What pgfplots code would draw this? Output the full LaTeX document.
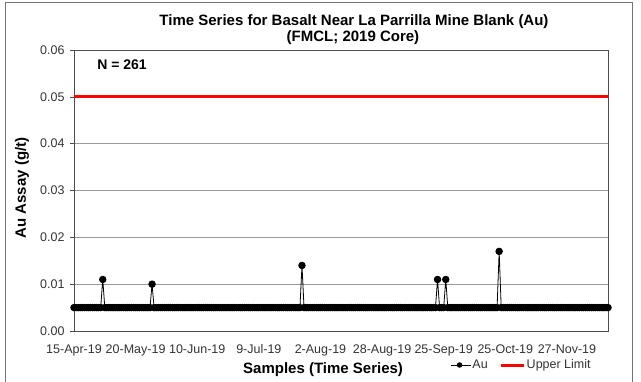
\documentclass[border=0pt]{standalone}
\usepackage{fontspec}
\setmainfont{Liberation Sans}
\usepackage{pgfplots}
\usepackage{pgfplotstable}
\pgfplotsset{compat=1.18}

% Au assay per sample (g/t), 261 samples in order
\pgfplotstableread[row sep=\\]{
au\\
.005\\ .005\\ .005\\ .005\\ .005\\  .005\\ .005\\ .005\\ .005\\ .005\\  .005\\ .005\\ .005\\ .005\\ .011\\  .005\\ .005\\ .005\\ .005\\ .005\\
.005\\ .005\\ .005\\ .005\\ .005\\  .005\\ .005\\ .005\\ .005\\ .005\\  .005\\ .005\\ .005\\ .005\\ .005\\  .005\\ .005\\ .005\\ .010\\ .005\\
.005\\ .005\\ .005\\ .005\\ .005\\  .005\\ .005\\ .005\\ .005\\ .005\\  .005\\ .005\\ .005\\ .005\\ .005\\  .005\\ .005\\ .005\\ .005\\ .005\\
.005\\ .005\\ .005\\ .005\\ .005\\  .005\\ .005\\ .005\\ .005\\ .005\\  .005\\ .005\\ .005\\ .005\\ .005\\  .005\\ .005\\ .005\\ .005\\ .005\\
.005\\ .005\\ .005\\ .005\\ .005\\  .005\\ .005\\ .005\\ .005\\ .005\\  .005\\ .005\\ .005\\ .005\\ .005\\  .005\\ .005\\ .005\\ .005\\ .005\\
.005\\ .005\\ .005\\ .005\\ .005\\  .005\\ .005\\ .005\\ .005\\ .005\\  .005\\ .014\\ .005\\ .005\\ .005\\  .005\\ .005\\ .005\\ .005\\ .005\\
.005\\ .005\\ .005\\ .005\\ .005\\  .005\\ .005\\ .005\\ .005\\ .005\\  .005\\ .005\\ .005\\ .005\\ .005\\  .005\\ .005\\ .005\\ .005\\ .005\\
.005\\ .005\\ .005\\ .005\\ .005\\  .005\\ .005\\ .005\\ .005\\ .005\\  .005\\ .005\\ .005\\ .005\\ .005\\  .005\\ .005\\ .005\\ .005\\ .005\\
.005\\ .005\\ .005\\ .005\\ .005\\  .005\\ .005\\ .005\\ .005\\ .005\\  .005\\ .005\\ .005\\ .005\\ .005\\  .005\\ .005\\ .011\\ .005\\ .005\\
.005\\ .011\\ .005\\ .005\\ .005\\  .005\\ .005\\ .005\\ .005\\ .005\\  .005\\ .005\\ .005\\ .005\\ .005\\  .005\\ .005\\ .005\\ .005\\ .005\\
.005\\ .005\\ .005\\ .005\\ .005\\  .005\\ .005\\ .017\\ .005\\ .005\\  .005\\ .005\\ .005\\ .005\\ .005\\  .005\\ .005\\ .005\\ .005\\ .005\\
.005\\ .005\\ .005\\ .005\\ .005\\  .005\\ .005\\ .005\\ .005\\ .005\\  .005\\ .005\\ .005\\ .005\\ .005\\  .005\\ .005\\ .005\\ .005\\ .005\\
.005\\ .005\\ .005\\ .005\\ .005\\  .005\\ .005\\ .005\\ .005\\ .005\\  .005\\ .005\\ .005\\ .005\\ .005\\  .005\\ .005\\ .005\\ .005\\ .005\\
.005\\
}\audata

\begin{document}
\begin{tikzpicture}[x=1bp,y=1bp]
\useasboundingbox (0,0) rectangle (641,381);
% outer chart frame
\draw[black!55, line width=0.8bp] (5,-5) -- (5,379) -- (632,379) -- (632,-5);

\begin{axis}[
    at={(74bp,50bp)}, anchor=south west,
    scale only axis,
    width=534bp, height=281bp,
    xmin=0, xmax=260,
    ymin=0, ymax=0.06,
    clip=false,
    axis line style={black!70, line width=0.8bp},
    ytick={0,0.01,0.02,0.03,0.04,0.05,0.06},
    scaled y ticks=false,
    yticklabel style={/pgf/number format/fixed, /pgf/number format/fixed zerofill,
        /pgf/number format/precision=2, /pgf/number format/assume math mode=true,
        xshift=-2bp},
    ytick pos=left,
    tick align=outside,
    major tick length=4bp,
    y tick style={black!70, line width=0.6bp},
    xtick={0,30,...,240},
    xticklabels={15-Apr-19,20-May-19,10-Jun-19,9-Jul-19,2-Aug-19,28-Aug-19,25-Sep-19,25-Oct-19,27-Nov-19},
    xtick style={draw=none},
    xticklabel style={yshift=-6bp},
    tick label style={font=\fontsize{12.5bp}{15bp}\selectfont, text=black!80},
    ymajorgrids,
    grid style={black!40, line width=0.6bp},
    legend style={
        at={(0.704,-0.121)}, anchor=west,
        draw=none, fill=none, inner sep=0pt,
        legend columns=2,
        font=\fontsize{12.5bp}{15bp}\selectfont,
        text=black!80,
        nodes={inner sep=1.5bp},
        /tikz/every even column/.append style={column sep=10bp}
    }
]
\addplot[black, line width=0.8bp, mark=*, mark size=3.3bp,
    mark options={fill=black},
    legend image code/.code={
        \draw[black, line width=0.8bp] (0bp,0bp) -- (20bp,0bp);
        \fill[black] (9bp,0bp) circle (2.3bp);}]
    table[x expr=\coordindex, y=au] {\audata};
\addlegendentry{Au}
\addplot[red, line width=3bp,
    legend image code/.code={\draw[red, line width=3bp] (0bp,0bp) -- (23bp,0bp);}]
    coordinates {(0,0.05) (260,0.05)};
\addlegendentry{Upper Limit}
\node[anchor=west, font=\fontsize{14bp}{17bp}\selectfont\bfseries]
    at (axis description cs:0.037,0.947) {N = 261};
\end{axis}

% titles and axis labels
\node[anchor=base, font=\fontsize{15bp}{18bp}\selectfont\bfseries] at (354,356)
    {Time Series for Basalt Near La Parrilla Mine Blank (Au)};
\node[anchor=base, font=\fontsize{15bp}{18bp}\selectfont\bfseries] at (353,340)
    {(FMCL; 2019 Core)};
\node[rotate=90, font=\fontsize{15bp}{18bp}\selectfont\bfseries] at (22,193)
    {Au Assay (g/t)};
\node[anchor=base west, inner sep=0pt, font=\fontsize{15bp}{18bp}\selectfont\bfseries] at (243,8)
    {Samples (Time Series)};
\end{tikzpicture}
\end{document}
